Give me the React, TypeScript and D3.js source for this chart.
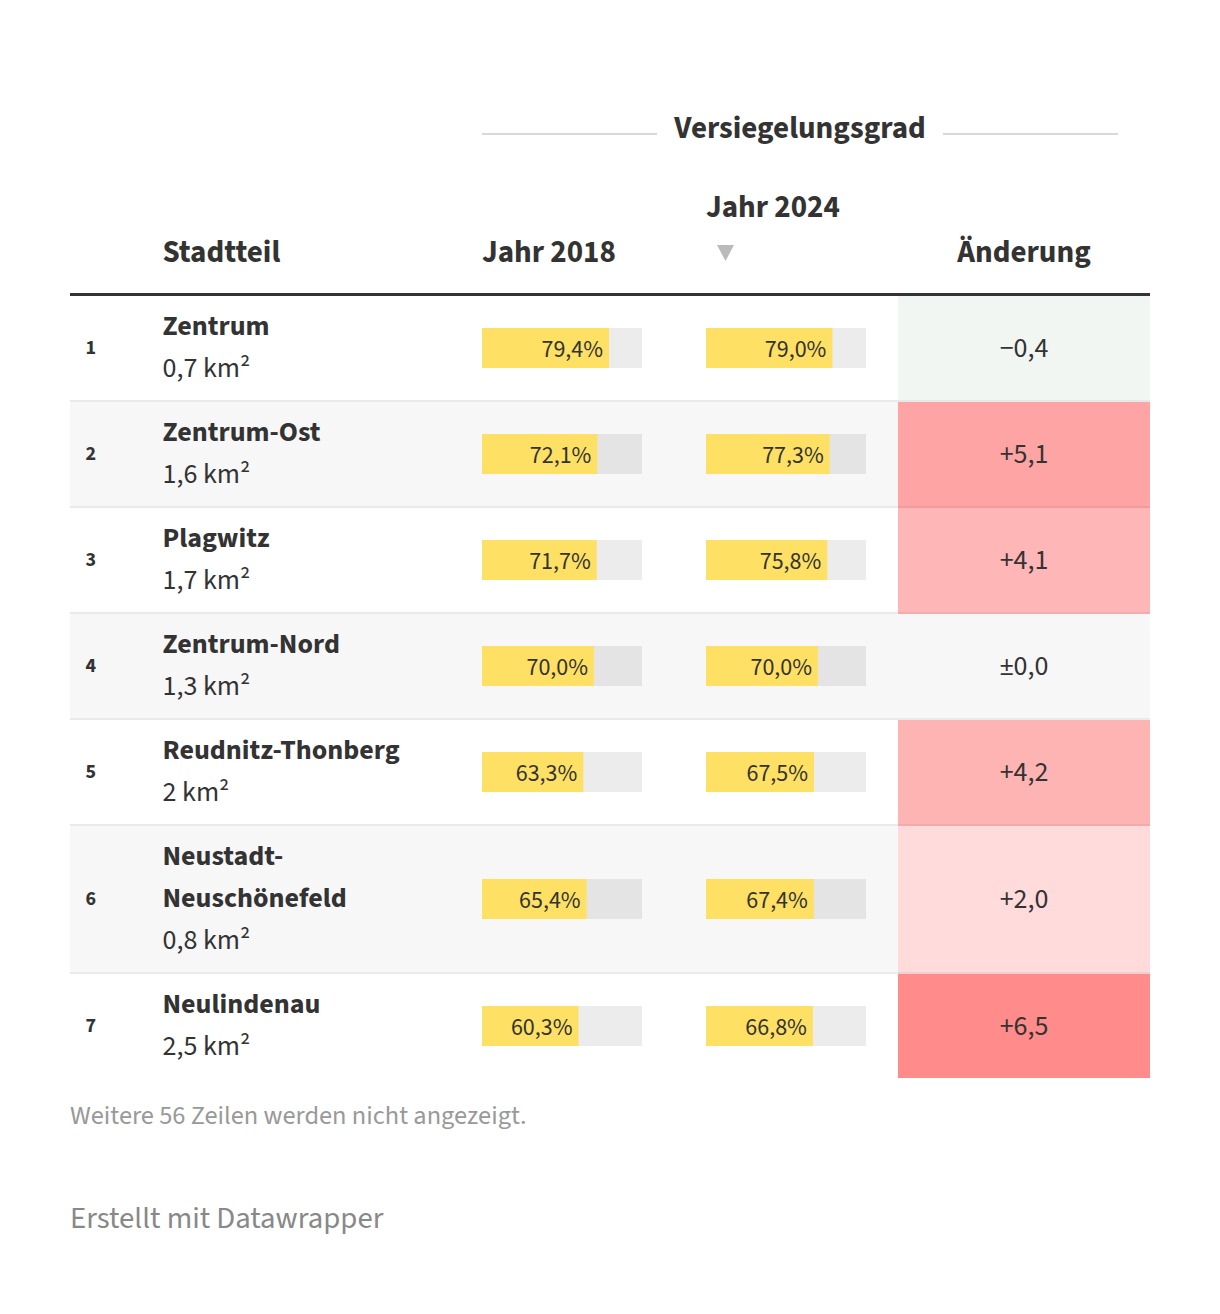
import React from "react";
import * as d3 from "d3";

const districts = ["Zentrum", "Zentrum-Ost", "Plagwitz", "Zentrum-Nord", "Reudnitz-Thonberg", "Neustadt-Neuschönefeld", "Neulindenau"];
const areas = [0.7, 1.6, 1.7, 1.3, 2, 0.8, 2.5];
const values2018 = [79.4, 72.1, 71.7, 70.0, 63.3, 65.4, 60.3];
const values2024 = [79.0, 77.3, 75.8, 70.0, 67.5, 67.4, 66.8];
const changes = [-0.4, 5.1, 4.1, 0.0, 4.2, 2.0, 6.5];
const columnHeaders = ["Stadtteil", "Jahr 2018", "Jahr 2024", "Änderung"];
const groupHeader = "Versiegelungsgrad";
const hiddenNote = "Weitere 56 Zeilen werden nicht angezeigt.";
const credit = "Erstellt mit Datawrapper";

const FONT = "'Source Sans Pro', 'Source Sans 3', Lato, 'Noto Sans', sans-serif";
const W = 1220;
const H = 1314;
const LEFT = 70;
const RIGHT = 1150;
const NAME_X = 162.5;
const COL18 = 482;
const COL24 = 706;
const BAR_W = 160;
const CH_X0 = 898;
const LINE_H = 42;
const TABLE_TOP = 296;
const BODY_FS = 28;
const HEAD_FS = 31;

const de = d3.formatLocale({ decimal: ",", thousands: ".", grouping: [3], currency: ["", " €"], minus: "−" });
const fmt1 = de.format(".1f");
const fmtArea = (v: number) => (Number.isInteger(v) ? String(v) : fmt1(v));
const fmtChange = (v: number) => (v === 0 ? "±" + fmt1(0) : v > 0 ? "+" + fmt1(v) : fmt1(v));

let ctx: CanvasRenderingContext2D | null = null;
function measure(text: string, font: string) {
  if (!ctx) ctx = document.createElement("canvas").getContext("2d");
  ctx!.font = font;
  return ctx!.measureText(text).width;
}
function wrapName(name: string): string[] {
  const font = `700 ${BODY_FS}px ${FONT}`;
  if (measure(name, font) <= 290) return [name];
  const i = name.indexOf("-");
  if (i > 0) return [name.slice(0, i + 1), name.slice(i + 1)];
  return [name];
}

const x = d3.scaleLinear().domain([0, 100]).range([0, BAR_W]);
const changeColor = (v: number) => {
  if (v === 0) return "none";
  if (v < 0) return d3.interpolateRgb("#ffffff", "#dce8df")(Math.min(1, -v / 1));
  return d3.scaleLinear<string>().domain([0, 6.5]).range(["#ffffff", "#ff8b8b"]).interpolate(d3.interpolateRgb)(v);
};

export default function App() {
  const rows = districts.map((d, i) => {
    const lines = [...wrapName(d), fmtArea(areas[i]) + " km²"];
    return { name: d, lines, i };
  });
  let y = TABLE_TOP;
  const layout = rows.map((r) => {
    const h = r.lines.length * LINE_H + 20;
    const top = y;
    y += h + 2;
    return { ...r, top, h };
  });
  const tableBottom = y - 2;

  return (
    <svg width={W} height={H} style={{ position: "absolute", left: 0, top: 0, background: "#fff" }} fontFamily={FONT}>
      <line x1={COL18} x2={657} y1={134} y2={134} stroke="#cccccc" strokeWidth={1.5} />
      <line x1={943} x2={1118} y1={134} y2={134} stroke="#cccccc" strokeWidth={1.5} />
      <text x={800} y={138} textAnchor="middle" fontSize={HEAD_FS} fontWeight={700} fill="#333">{groupHeader}</text>

      <text x={NAME_X} y={262} fontSize={HEAD_FS} fontWeight={700} fill="#333">{columnHeaders[0]}</text>
      <text x={COL18} y={262} fontSize={HEAD_FS} fontWeight={700} fill="#333">{columnHeaders[1]}</text>
      <text x={COL24} y={216.5} fontSize={HEAD_FS} fontWeight={700} fill="#333">{columnHeaders[2]}</text>
      <path d={`M${717},${245} L${734},${245} L${725.5},${261} Z`} fill="#bbbbbb" />
      <text x={1024} y={262} textAnchor="middle" fontSize={HEAD_FS} fontWeight={700} fill="#333">{columnHeaders[3]}</text>
      <rect x={LEFT} y={293} width={RIGHT - LEFT} height={3} fill="#333" />

      {layout.map((r) => {
        const cy = r.top + r.h / 2;
        const i = r.i;
        const even = i % 2 === 1;
        const firstMid = cy - ((r.lines.length - 1) * LINE_H) / 2;
        const cc = changeColor(changes[i]);
        const notLast = i < layout.length - 1;
        return (
          <g key={r.name}>
            {even && <rect x={LEFT} y={r.top} width={RIGHT - LEFT} height={r.h} fill="#f7f7f7" />}
            {cc !== "none" && <rect x={CH_X0} y={r.top} width={RIGHT - CH_X0} height={r.h + (notLast ? 2 : 0)} fill={cc} />}
            {notLast && <rect x={LEFT} y={r.top + r.h} width={CH_X0 - LEFT} height={2} fill="#eaeaea" />}
            {notLast && cc === "none" && <rect x={CH_X0} y={r.top + r.h} width={RIGHT - CH_X0} height={2} fill="#eaeaea" />}
            {notLast && cc !== "none" && <rect x={CH_X0} y={r.top + r.h} width={RIGHT - CH_X0} height={2} fill="rgba(0,0,0,0.05)" />}
            <text x={85.5} y={cy + 6} fontSize={20} fontWeight={700} fill="#333">{i + 1}</text>
            {r.lines.map((ln, k) => (
              <text key={k} x={NAME_X} y={firstMid + k * LINE_H + (k < r.lines.length - 1 ? 8 : 7.5)} fontSize={BODY_FS} fontWeight={k < r.lines.length - 1 ? 700 : 400} fill="#333">{ln}</text>
            ))}
            {[{ x0: COL18, v: values2018[i] }, { x0: COL24, v: values2024[i] }].map((b, k) => (
              <g key={k} transform={`translate(${b.x0},${cy - 20})`}>
                <rect x={0} y={0} width={x(100)} height={40} fill="rgba(0,0,0,0.075)" />
                <rect x={0} y={0} width={x(b.v)} height={40} fill="#fde064" />
                <text x={x(b.v) - 6} y={28.5} textAnchor="end" fontSize={24} fill="#333">{fmt1(b.v) + "%"}</text>
              </g>
            ))}
            <text x={1024} y={cy + 9} textAnchor="middle" fontSize={BODY_FS} fill="#333">{fmtChange(changes[i])}</text>
          </g>
        );
      })}

      <text x={LEFT} y={tableBottom + 46} fontSize={26.4} fill="#999">{hiddenNote}</text>
      <text x={LEFT} y={tableBottom + 150} fontSize={30.8} fill="#888">{credit}</text>
    </svg>
  );
}
